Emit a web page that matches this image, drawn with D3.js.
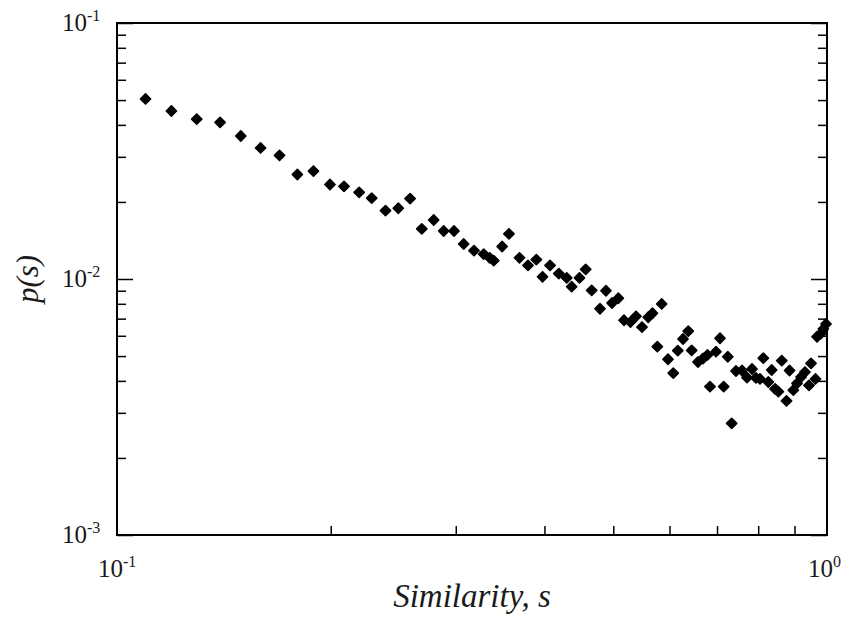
<!DOCTYPE html>
<html>
<head>
<meta charset="utf-8">
<script src="https://cdn.jsdelivr.net/npm/d3@7"></script>
<style>
  body { margin: 0; background: #fff; }
  text { font-family: "Liberation Serif", "Times New Roman", serif; fill: #1a1a1a; }
</style>
</head>
<body>
<svg id="chart" width="850" height="639"></svg>
<script>
// values
var sim = [0.1097, 0.1193, 0.1295, 0.1397, 0.1494, 0.1593, 0.1694, 0.1795, 0.1891, 0.1995,
           0.2088, 0.2193, 0.2284, 0.2389, 0.2490, 0.2587, 0.2687, 0.2793, 0.2885, 0.2983,
           0.3078, 0.3183, 0.3285, 0.3349, 0.3393, 0.3487, 0.3565, 0.3689, 0.3792, 0.3896,
           0.3975, 0.4073, 0.4191, 0.4299, 0.4369, 0.4481, 0.4572, 0.4662, 0.4789, 0.4883,
           0.4980, 0.5083, 0.5177, 0.5287, 0.5383, 0.5488, 0.5601, 0.5678, 0.5850, 0.5768,
           0.5971, 0.6074, 0.6164, 0.6269, 0.6377, 0.6448, 0.6581, 0.6689, 0.6787, 0.6842,
           0.6977, 0.7068, 0.7153, 0.7249, 0.7341, 0.7444, 0.7591, 0.7715, 0.7842, 0.7943,
           0.8047, 0.8134, 0.8267, 0.8358, 0.8450, 0.8540, 0.8635, 0.8770, 0.8856, 0.8966,
           0.9074, 0.9192, 0.9311, 0.9433, 0.9495, 0.9634, 0.9681, 0.9791, 0.9881, 0.9968];

var prob = [0.0505, 0.0453, 0.0421, 0.0409, 0.0362, 0.0325, 0.0304, 0.0256, 0.0264, 0.0234,
            0.0230, 0.0218, 0.0207, 0.0185, 0.0189, 0.0206, 0.0157, 0.0170, 0.0154, 0.0154,
            0.0137, 0.0129, 0.0125, 0.0121, 0.0118, 0.0134, 0.0150, 0.0121, 0.0113, 0.0119,
            0.0102, 0.0113, 0.0105, 0.0101, 0.00933, 0.0101, 0.0109, 0.00903, 0.00765, 0.00900,
            0.00806, 0.00841, 0.00690, 0.00679, 0.00715, 0.00649, 0.00709, 0.00735, 0.00799, 0.00544,
            0.00486, 0.00429, 0.00525, 0.00583, 0.00626, 0.00526, 0.00474, 0.00489, 0.00505, 0.00380,
            0.00520, 0.00587, 0.00380, 0.00497, 0.00273, 0.00437, 0.00439, 0.00412, 0.00445, 0.00411,
            0.00407, 0.00491, 0.00396, 0.00441, 0.00372, 0.00363, 0.00480, 0.00334, 0.00439, 0.00368,
            0.00391, 0.00414, 0.00433, 0.00384, 0.00468, 0.00407, 0.00595, 0.00610, 0.00638, 0.00667];

var xMajor = [0.1, 1];
var xMajorExp = ["-1", "0"];
var yMajor = [1e-3, 1e-2, 1e-1];
var yMajorExp = ["-3", "-2", "-1"];

var svg = d3.select("#chart");
var pLeft = 117, pRight = 827, pTop = 23, pBottom = 535;

var x = d3.scaleLog().domain([0.1, 1]).range([pLeft, pRight]);
var y = d3.scaleLog().domain([1e-3, 1e-1]).range([pBottom, pTop]);

// minor ticks 2..9 in each decade
var xMinor = d3.range(2, 10).map(function(k) { return k * 0.1; });
var yMinor = [];
[1e-3, 1e-2].forEach(function(d) {
  d3.range(2, 10).forEach(function(k) { yMinor.push(k * d); });
});

function tickAxis(axis, vals, size, tr) {
  var g = svg.append("g")
    .attr("transform", tr)
    .call(axis.tickValues(vals).tickSize(size).tickFormat(""));
  g.select(".domain").remove();
  g.selectAll(".tick line").attr("stroke", "#000").attr("stroke-width", 1.5);
  return g;
}

tickAxis(d3.axisBottom(x), xMinor, -9, "translate(0," + pBottom + ")");
tickAxis(d3.axisLeft(y), yMinor, -9, "translate(" + pLeft + ",0)");
tickAxis(d3.axisLeft(y), yMajor, -16, "translate(" + pLeft + ",0)");
tickAxis(d3.axisRight(y), yMinor, -9, "translate(" + pRight + ",0)");
tickAxis(d3.axisRight(y), yMajor, -16, "translate(" + pRight + ",0)");

// frame
svg.append("rect")
  .attr("x", pLeft).attr("y", pTop)
  .attr("width", pRight - pLeft).attr("height", pBottom - pTop)
  .attr("fill", "none").attr("stroke", "#000").attr("stroke-width", 2);

// power-of-ten labels
function powLabel(sel, exp) {
  sel.append("tspan").text("10");
  sel.append("tspan").attr("dy", -10).attr("font-size", 16).text(exp);
}

svg.selectAll(".xlab")
  .data(xMajor)
  .enter().append("text")
  .attr("class", "xlab")
  .attr("x", function(d) { return x(d) - 19; })
  .attr("y", 577)
  .attr("font-size", 25)
  .each(function(d, i) { powLabel(d3.select(this), xMajorExp[i]); });

svg.selectAll(".ylab")
  .data(yMajor)
  .enter().append("text")
  .attr("class", "ylab")
  .attr("x", 62)
  .attr("y", function(d) { return y(d) + 8; })
  .attr("font-size", 25)
  .each(function(d, i) { powLabel(d3.select(this), yMajorExp[i]); });

// axis titles
svg.append("text")
  .attr("x", (pLeft + pRight) / 2)
  .attr("y", 607)
  .attr("text-anchor", "middle")
  .attr("font-size", 33)
  .attr("font-style", "italic")
  .text("Similarity, s");

svg.append("text")
  .attr("transform", "translate(38," + y(1e-2) + ") rotate(-90)")
  .attr("text-anchor", "middle")
  .attr("font-size", 31)
  .attr("font-style", "italic")
  .text("p(s)");

// points
var pts = sim.map(function(s, i) { return { s: s, p: prob[i] }; });
var diamond = d3.symbol().type(d3.symbolSquare).size(52);

svg.append("g")
  .selectAll("path")
  .data(pts)
  .enter().append("path")
  .attr("d", diamond)
  .attr("transform", function(d) { return "translate(" + x(d.s) + "," + y(d.p) + ") rotate(45)"; })
  .attr("fill", "#000")
  .attr("stroke", "#000")
  .attr("stroke-width", 1.6)
  .attr("stroke-linejoin", "round");
</script>
</body>
</html>
